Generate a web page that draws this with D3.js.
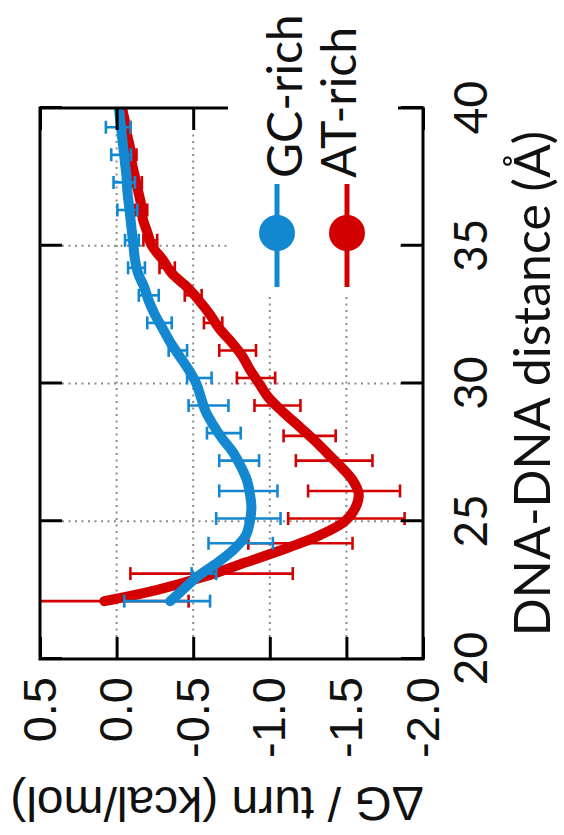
<!DOCTYPE html>
<html>
<head>
<meta charset="utf-8">
<script src="https://cdn.jsdelivr.net/npm/d3@7"></script>
<style>
html,body{margin:0;padding:0;background:#fff;}
svg{display:block;}
</style>
</head>
<body>
<svg id="chart" width="564" height="835"></svg>
<script>
// ---------- data ----------
const gcX = [22.1,22.5,23.0,23.5,24.0,24.5,25.0,25.5,26.0,26.5,27.0,27.5,28.0,28.5,29.0,29.5,30.0,30.5,31.0,31.5,32.0,32.5,33.0,33.5,34.0,34.5,35.0,35.5,36.0,36.5,37.0,37.5,38.0,38.5,39.0,39.5,40.0];
const gcG = [-0.35,-0.43,-0.53,-0.66,-0.77,-0.845,-0.87,-0.88,-0.87,-0.85,-0.81,-0.76,-0.69,-0.63,-0.58,-0.55,-0.52,-0.47,-0.41,-0.35,-0.30,-0.25,-0.21,-0.18,-0.14,-0.12,-0.11,-0.10,-0.09,-0.08,-0.07,-0.065,-0.055,-0.045,-0.035,-0.025,-0.015];
const atX = [22.1,22.5,23.0,23.5,24.0,24.5,25.0,25.5,26.0,26.5,27.0,27.5,28.0,28.5,29.0,29.5,30.0,30.5,31.0,31.5,32.0,32.5,33.0,33.5,34.0,34.5,35.0,35.5,36.0,36.5,37.0,37.5,38.0,38.5,39.0,39.5,40.0];
const atG = [0.08,-0.26,-0.58,-0.84,-1.10,-1.33,-1.49,-1.56,-1.58,-1.54,-1.46,-1.37,-1.28,-1.18,-1.08,-0.99,-0.93,-0.87,-0.82,-0.75,-0.67,-0.61,-0.54,-0.46,-0.36,-0.30,-0.23,-0.20,-0.17,-0.16,-0.14,-0.12,-0.10,-0.09,-0.07,-0.055,-0.035];

const gcErrX    = [22.1,23.1,24.2,25.1,26.1,27.2,28.2,29.2,30.2,31.2,32.2,33.2,34.2,35.2,36.3,37.3,38.3,39.3];
const gcErrG    = [-0.33,-0.57,-0.81,-0.86,-0.86,-0.80,-0.70,-0.60,-0.54,-0.40,-0.28,-0.21,-0.13,-0.10,-0.07,-0.05,-0.03,-0.01];
const gcErrHalf = [0.28,0.08,0.21,0.21,0.19,0.13,0.11,0.13,0.08,0.06,0.08,0.065,0.055,0.045,0.065,0.07,0.065,0.08];

const atErrX    = [22.1,23.1,24.2,25.1,26.1,27.2,28.1,29.2,30.2,31.2,32.2,33.2,34.2,35.2,36.3,37.3,38.3,39.3];
const atErrG    = [0.08,-0.62,-1.20,-1.50,-1.55,-1.42,-1.26,-1.05,-0.91,-0.79,-0.63,-0.50,-0.33,-0.22,-0.16,-0.13,-0.10,-0.06];
const atErrHalf = [0.55,0.53,0.34,0.38,0.30,0.25,0.17,0.15,0.125,0.12,0.06,0.055,0.05,0.045,0.04,0.035,0.03,0.03];

const xTicks = [20,25,30,35,40];
const xTickLabels = ["20","25","30","35","40"];
const yTicks = [0.5,0.0,-0.5,-1.0,-1.5,-2.0];
const yTickLabels = ["0.5","0.0","-0.5","-1.0","-1.5","-2.0"];
const xGrid = [25,30,35];
const yGrid = [0.0,-0.5,-1.0,-1.5];
const seriesNames = ["GC-rich","AT-rich"];
const seriesColors = ["#1387cf","#d20000"];
const xTitle = "DNA-DNA distance (Å)";
const yTitle = "ΔG / turn (kcal/mol)";

// ---------- layout (drawn in the un-rotated frame, then rotated -90°) ----------
const svg = d3.select("#chart");
const root = svg.append("g").attr("transform","translate(0,835) rotate(-90)");

const L = 176, R = 727, T = 40, B = 423;
const x = d3.scaleLinear().domain([20,40]).range([L,R]);
const y = d3.scaleLinear().domain([0.5,-2.0]).range([T,B]);
const TICK = 22;
const calibriLike = "Lato, 'Open Sans', sans-serif";
const arialLike = "'Liberation Sans', Arial, sans-serif";

// grid
const grid = root.append("g").attr("stroke","#8a8a8a").attr("stroke-width",2).attr("stroke-dasharray","2,4.5").attr("fill","none");
grid.selectAll("line.gx").data(xGrid).join("line").attr("class","gx")
  .attr("x1",d=>x(d)).attr("x2",d=>x(d)).attr("y1",T+TICK).attr("y2",B-TICK);
grid.selectAll("line.gy").data(yGrid).join("line").attr("class","gy")
  .attr("y1",d=>y(d)).attr("y2",d=>y(d)).attr("x1",L+TICK).attr("x2",R-TICK);

// clip
root.append("clipPath").attr("id","plotclip").append("rect")
  .attr("x",L).attr("y",T).attr("width",R-L).attr("height",B-T);
const plot = root.append("g").attr("clip-path","url(#plotclip)");

function mk(xs,gs){ return xs.map((v,i)=>({x:v,g:gs[i]})); }
function mkErr(xs,gs,hs){ return xs.map((v,i)=>({x:v,g:gs[i],h:hs[i]})); }
const series = [
  {name:seriesNames[1], color:seriesColors[1], pts:mk(atX,atG), err:mkErr(atErrX,atErrG,atErrHalf)},
  {name:seriesNames[0], color:seriesColors[0], pts:mk(gcX,gcG), err:mkErr(gcErrX,gcErrG,gcErrHalf)}
];
const line = d3.line().x(d=>x(d.x)).y(d=>y(d.g)).curve(d3.curveCatmullRom.alpha(0.5));
const CAP = 6.5;
series.forEach(s=>{
  const eg = plot.append("g").attr("stroke",s.color).attr("stroke-width",2.6).attr("fill","none");
  eg.selectAll("line.v").data(s.err).join("line").attr("class","v")
    .attr("x1",d=>x(d.x)).attr("x2",d=>x(d.x)).attr("y1",d=>y(d.g+d.h)).attr("y2",d=>y(d.g-d.h));
  eg.selectAll("line.c1").data(s.err).join("line").attr("class","c1")
    .attr("x1",d=>x(d.x)-CAP).attr("x2",d=>x(d.x)+CAP).attr("y1",d=>y(d.g+d.h)).attr("y2",d=>y(d.g+d.h));
  eg.selectAll("line.c2").data(s.err).join("line").attr("class","c2")
    .attr("x1",d=>x(d.x)-CAP).attr("x2",d=>x(d.x)+CAP).attr("y1",d=>y(d.g-d.h)).attr("y2",d=>y(d.g-d.h));
  plot.append("path").datum(s.pts).attr("d",line).attr("fill","none")
    .attr("stroke",s.color).attr("stroke-width",10).attr("stroke-linecap","round").attr("stroke-linejoin","round");
});

// axes (inward ticks)
const axB = d3.axisBottom(x).tickValues(xTicks).tickSizeInner(-TICK).tickSizeOuter(0).tickPadding(31)
  .tickFormat((d,i)=>xTickLabels[i]);
const gB = root.append("g").attr("transform",`translate(0,${B})`).call(axB);
const axT = d3.axisTop(x).tickValues(xTicks).tickSizeInner(-TICK).tickSizeOuter(0).tickFormat("");
const gT = root.append("g").attr("transform",`translate(0,${T})`).call(axT);
const axL = d3.axisLeft(y).tickValues(yTicks).tickSizeInner(-TICK).tickSizeOuter(0).tickPadding(18)
  .tickFormat((d,i)=>yTickLabels[i]);
const gL = root.append("g").attr("transform",`translate(${L},0)`).call(axL);
const axR = d3.axisRight(y).tickValues(yTicks).tickSizeInner(-TICK).tickSizeOuter(0).tickFormat("");
const gR = root.append("g").attr("transform",`translate(${R},0)`).call(axR);
[gB,gT,gL,gR].forEach(g=>{
  g.select(".domain").remove();
  g.selectAll(".tick line").attr("stroke","#000").attr("stroke-width",3);
});
gB.selectAll("text").attr("font-family",calibriLike).attr("font-size",46).attr("fill","#111");
gL.selectAll("text").attr("font-family",arialLike).attr("font-size",47).attr("fill","#111");

// frame
root.append("rect").attr("x",L).attr("y",T).attr("width",R-L).attr("height",B-T)
  .attr("fill","none").attr("stroke","#000").attr("stroke-width",3);

// legend (opaque key)
const key = root.append("g");
key.append("rect").attr("x",538).attr("y",228).attr("width",300).attr("height",170).attr("fill","#fff");
const keyRows = [
  {name:seriesNames[0], color:seriesColors[0], v:277, base:302},
  {name:seriesNames[1], color:seriesColors[1], v:347, base:356}
];
keyRows.forEach(r=>{
  key.append("line").attr("x1",548).attr("x2",651).attr("y1",r.v).attr("y2",r.v)
    .attr("stroke",r.color).attr("stroke-width",5);
  key.append("circle").attr("cx",602).attr("cy",r.v).attr("r",18).attr("fill",r.color);
  key.append("text").attr("x",657).attr("y",r.base).text(r.name)
    .attr("font-family",calibriLike).attr("font-size",48).attr("fill","#111");
});

// axis titles
root.append("text").attr("x",(L+R)/2).attr("y",550).attr("text-anchor","middle")
  .attr("font-family",calibriLike).attr("font-size",50).attr("fill","#111").text(xTitle);
root.append("text").attr("transform",`translate(48,217) rotate(-90)`).attr("text-anchor","middle")
  .attr("font-family",arialLike).attr("font-size",48).attr("fill","#111").text(yTitle);
</script>
</body>
</html>
